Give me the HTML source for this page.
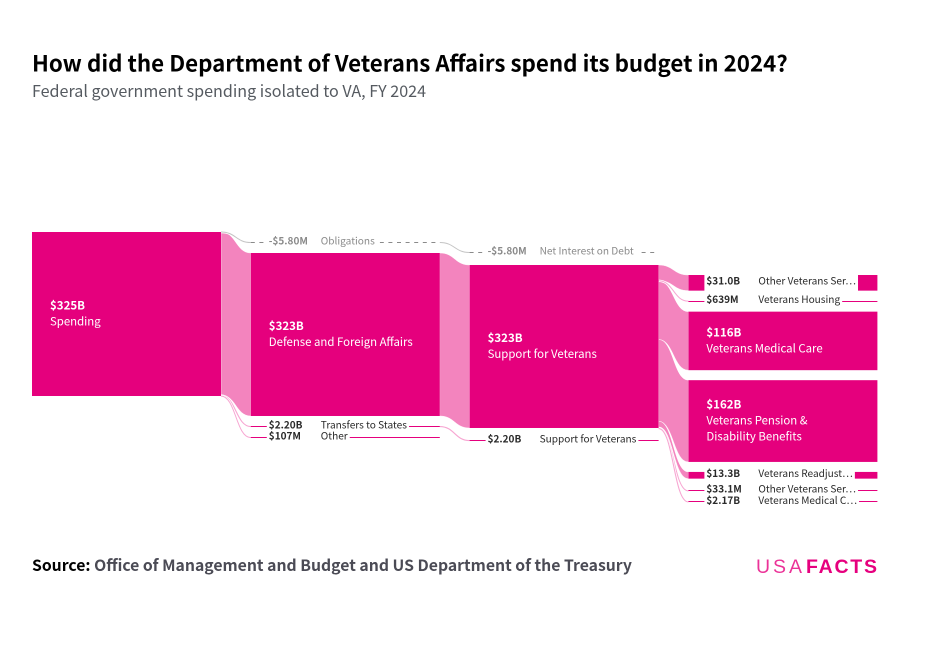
<!DOCTYPE html>
<html lang="en">
<head>
<meta charset="utf-8">
<title>How did the Department of Veterans Affairs spend its budget in 2024?</title>
<style>
html,body{margin:0;padding:0;background:#fff;}
svg{display:block;}
text{font-family:"Noto Sans CJK SC","Liberation Sans",sans-serif;}
</style>
</head>
<body>
<svg id="chart" width="929" height="661" viewBox="0 0 929 661" xmlns="http://www.w3.org/2000/svg">
  <rect x="0" y="0" width="929" height="661" fill="#fff"/>
  <text x="32" y="71.5" font-size="22.3" font-weight="700" fill="#000">How did the Department of Veterans Affairs spend its budget in 2024?</text>
  <text x="32" y="97" font-size="16.1" fill="#555a60">Federal government spending isolated to VA, FY 2024</text>
  <g id="links"></g>
  <g id="nodes"></g>
  <text x="32" y="571" font-size="15.75" font-weight="700" fill="#000">Source: <tspan fill="#4b4b55">Office of Management and Budget and US Department of the Treasury</tspan></text>
  <g>
    <text x="756" y="573" font-size="19.5" textLength="46" lengthAdjust="spacing" fill="#e6007e" fill-opacity="0.8" style="font-family:'Liberation Sans',sans-serif;">USA</text>
    <text x="806" y="573" font-size="19.5" font-weight="700" textLength="71" lengthAdjust="spacing" fill="#e6007e" style="font-family:'Liberation Sans',sans-serif;">FACTS</text>
  </g>
</svg>
<script>
// ---- data ----
const nodeNames = [
  "Spending",
  "Obligations", "Defense and Foreign Affairs", "Transfers to States", "Other",
  "Net Interest on Debt", "Support for Veterans", "Support for Veterans",
  "Other Veterans Ser…", "Veterans Housing", "Veterans Medical Care",
  "Veterans Pension &\nDisability Benefits", "Veterans Readjust…",
  "Other Veterans Ser…", "Veterans Medical C…"
];
const nodeValues = [
  325,
  -0.0058, 323, 2.20, 0.107,
  -0.0058, 323, 2.20,
  31.0, 0.639, 116, 162, 13.3, 0.0331, 2.17
];
const nodeColumns = [0, 1, 1, 1, 1, 2, 2, 2, 3, 3, 3, 3, 3, 3, 3];
const linkSources = [0, 0, 0, 0, 1, 2, 3, 6, 6, 6, 6, 6, 6, 6];
const linkTargets = [1, 2, 3, 4, 5, 6, 7, 8, 9, 10, 11, 12, 13, 14];
const linkValues = [-0.0058, 323, 2.20, 0.107, -0.0058, 323, 2.20, 31.0, 0.639, 116, 162, 13.3, 0.0331, 2.17];

// ---- axis functions and layout constants ----
const SVG_NS = "http://www.w3.org/2000/svg";
const NODE_COLOR = "#e5007d";
const BAND_COLOR = "#f384be";
const GREY = "#8a8a8a";
const DARK = "#2a2a2a";
const NODE_WIDTH = 189;
const scaleHeight = function (v) { return Math.abs(v) * 164 / 325; };
const scaleColumn = function (c) { return 32 + c * 218.8; };
const columnStart = [232, 242, 252, 275];
const columnGap = [10, 10, 12, 10];
const extraGapAfter = { 12: 1.8 };

function formatValue(v) {
  const a = Math.abs(v);
  const sign = v < 0 ? "-" : "";
  if (a >= 1) return sign + "$" + a.toPrecision(3) + "B";
  return sign + "$" + (a * 1000).toPrecision(3) + "M";
}

function make(tag, attrs, parent) {
  const el = document.createElementNS(SVG_NS, tag);
  Object.keys(attrs).forEach(function (k) { el.setAttribute(k, attrs[k]); });
  parent.appendChild(el);
  return el;
}

// node layout
const layout = [];
const columnCursor = columnStart.slice();
nodeValues.forEach(function (v, i) {
  const c = nodeColumns[i];
  const h = Math.max(scaleHeight(v), 1);
  layout[i] = { x: scaleColumn(c), y: columnCursor[c], h: h, out: 0, inn: 0 };
  columnCursor[c] += h + columnGap[c] + (extraGapAfter[i] || 0);
});

// link layout
const linksGroup = document.getElementById("links");
const nodesGroup = document.getElementById("nodes");
const linkShapes = linkValues.map(function (v, i) {
  const s = layout[linkSources[i]];
  const t = layout[linkTargets[i]];
  const th = scaleHeight(v);
  const y0 = s.y + s.out;
  const y1 = t.y + t.inn;
  s.out += th;
  t.inn += th;
  return { i: i, v: v, th: th, y0: y0, y1: y1, s: s, t: t };
});

function curve(x0, y0, x1, y1) {
  const m = (x0 + x1) / 2;
  return "C" + m + " " + y0 + " " + m + " " + y1 + " " + x1 + " " + y1;
}

// thick bands first, thin links over them
linkShapes.filter(function (l) { return l.th >= 3; }).forEach(function (l) {
  const x0 = l.s.x + NODE_WIDTH;
  const x1 = l.t.x;
  const d = "M" + x0 + " " + l.y0 + curve(x0, l.y0, x1, l.y1) +
    "L" + x1 + " " + (l.y1 + l.th) +
    curve(x1, l.y1 + l.th, x0, l.y0 + l.th) + "Z";
  const band = make("path", { d: d, fill: BAND_COLOR, stroke: "#fff", "stroke-width": 0.4 }, linksGroup);
  
  
});
linkShapes.filter(function (l) { return l.th < 3; }).forEach(function (l) {
  const x0 = l.s.x + NODE_WIDTH;
  const x1 = l.t.x;
  const sy = l.s.h <= 2 ? l.s.y + l.s.h / 2 : l.y0 + l.th / 2;
  const ty = l.t.y + l.t.h / 2;
  const d = "M" + x0 + " " + sy + curve(x0, sy, x1, ty);
  const halo = make("path", { d: d, fill: "none", stroke: "#fff", "stroke-width": 2.4 }, linksGroup);
  
  
  const line = make("path", {
    d: d, fill: "none",
    stroke: l.v < 0 ? "#c4c4c4" : "#f7a6d2",
    "stroke-width": Math.max(l.th, 1)
  }, linksGroup);
  
  
});

// nodes
nodeValues.forEach(function (v, i) {
  const n = layout[i];
  const cy = n.y + n.h / 2;
  const valueText = formatValue(v);
  const lines = nodeNames[i].split("\n");

  if (n.h > 30) {
    const rect = make("rect", { x: n.x, y: n.y, width: NODE_WIDTH, height: n.h, fill: NODE_COLOR }, nodesGroup);
    
    
    const firstBase = cy - 4.4 - 8 * (lines.length - 1);
    const valueEl = make("text", { x: n.x + 18, y: firstBase, "font-size": 11.5, "font-weight": 700, fill: "#fff" }, nodesGroup);
    valueEl.textContent = valueText;
    
    
    lines.forEach(function (line, k) {
      const nameEl = make("text", { x: n.x + 18, y: firstBase + 16 * (k + 1), "font-size": 11.4, fill: "#fff" }, nodesGroup);
      nameEl.textContent = line;
      
      
    });
    return;
  }

  const color = v < 0 ? GREY : DARK;
  const barY = n.h < 3 ? Math.round(n.y) : n.y;
  const barH = n.h < 3 ? Math.max(Math.round(n.h), 1) : n.h;
  let bar;
  if (v < 0) {
    bar = make("line", {
      x1: n.x, x2: n.x + NODE_WIDTH, y1: barY + 0.5, y2: barY + 0.5,
      stroke: GREY, "stroke-width": 1, "stroke-dasharray": "4 4.6"
    }, nodesGroup);
  } else {
    bar = make("rect", { x: n.x, y: barY, width: NODE_WIDTH, height: barH, fill: NODE_COLOR }, nodesGroup);
  }
  
  

  const mask = make("rect", { x: n.x + 16, y: barY - 2, width: 100, height: barH + 4, fill: "#fff" }, nodesGroup);
  
  

  const baseline = cy + 1.8;
  const valueEl = make("text", { x: n.x + 18, y: baseline, "font-size": 10, "font-weight": 700, fill: color }, nodesGroup);
  valueEl.textContent = valueText;
  
  

  const nameEl = make("text", { x: n.x + 70, y: baseline, "font-size": 10.1, fill: color }, nodesGroup);
  nameEl.textContent = lines[0];
  
  

  const pad = v < 0 ? 5 : 2;
  const end = Math.min(n.x + 70 + nameEl.getComputedTextLength() + pad, n.x + 173);
  mask.setAttribute("width", end - (n.x + 16));
});
</script>
</body>
</html>
